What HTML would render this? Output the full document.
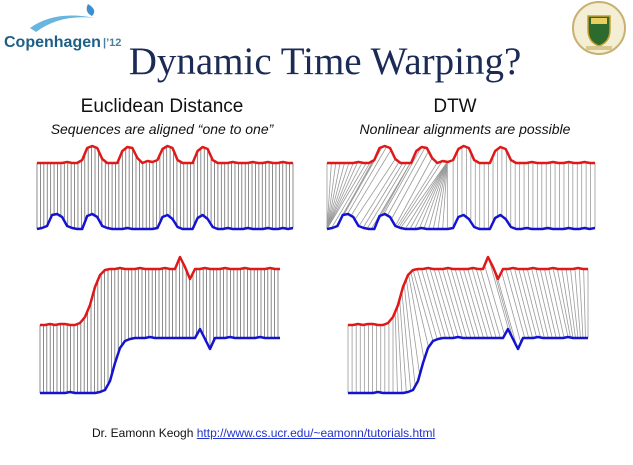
<!DOCTYPE html>
<html><head><meta charset="utf-8"><style>
body{margin:0;width:633px;height:465px;background:#fff;overflow:hidden;position:relative;font-family:"Liberation Sans",sans-serif}
.abs{position:absolute;white-space:nowrap}
</style></head><body>
<svg class="abs" style="left:0;top:0" width="633" height="465">
  <g>
    <path d="M30 28 Q55 10 95 18 Q60 14 36 32 Z" fill="#6ab4e0"/>
    <path d="M88 4 Q84 12 92 16 Q98 10 88 4Z" fill="#3d8fcf"/>
    <text x="4" y="47" font-family="Liberation Sans" font-weight="bold" font-size="16" fill="#1e5f86">Copenhagen</text>
    <text x="103" y="46" font-family="Liberation Sans" font-weight="bold" font-size="11" fill="#4a7fa0">|’12</text>
  </g>
  <g>
    <circle cx="599" cy="28" r="26" fill="#f4eed4" stroke="#c8b070" stroke-width="2"/>
    <path d="M588 16 h22 v14 q0 12 -11 16 q-11 -4 -11 -16z" fill="#2d6a2d" stroke="#c8a030" stroke-width="1.5"/>
    <rect x="591" y="18" width="16" height="6" fill="#e8d060"/>
    <rect x="586" y="46" width="26" height="4" fill="#d8c890"/>
  </g>
  <g id="charts"></g>
</svg>
<div class="abs" style="left:0;width:650px;text-align:center;top:39px;font-family:'Liberation Serif',serif;font-size:39px;color:#1b2b55">Dynamic Time Warping?</div>
<div class="abs" style="left:12px;width:300px;text-align:center;top:96px;font-size:19px;color:#111">Euclidean Distance</div>
<div class="abs" style="left:12px;width:300px;text-align:center;top:121px;font-size:14px;font-style:italic;color:#111">Sequences are aligned “one to one”</div>
<div class="abs" style="left:305px;width:300px;text-align:center;top:96px;font-size:19px;color:#111">DTW</div>
<div class="abs" style="left:315px;width:300px;text-align:center;top:121px;font-size:14px;font-style:italic;color:#111">Nonlinear alignments are possible</div>
<div class="abs" style="left:92px;top:426px;font-size:12px;color:#111">Dr. Eamonn Keogh <span style="color:#2233cc;text-decoration:underline">http://www.cs.ucr.edu/~eamonn/tutorials.html</span></div>
<script>
// top pair of series (index units, heights in px above baseline)
const topRed=[0,0,0,0,0,0,1,0,0,3,15,17,15,4,0,0,0,12,16,15,5,0,2,1,3,14,17,15,3,0,0,0,12,16,14,3,0,0,0,1,0,0,0,1,0,0,1,0,0,1,0,0];
const topBlue=[0,1,3,14,15,12,3,1,0,0,13,15,12,3,1,0,0,0,1,0,0,0,0,0,1,12,14,10,2,0,0,0,11,14,10,2,0,0,1,0,0,0,1,0,0,0,1,0,0,1,0,1];
// bottom pair
const botRed=[0,0,1,0,1,1,0,0,2,8,20,38,50,55,56,56,57,56,56,56,57,56,56,56,56,57,56,56,68,58,46,56,56,57,56,56,56,57,56,56,56,57,56,56,56,56,57,56,56];
const botBlue=[0,0,0,0,0,0,1,0,0,0,0,0,1,3,12,30,45,52,54,55,55,55,56,55,55,55,55,55,55,55,55,55,64,54,44,55,55,55,56,55,55,55,55,55,56,55,55,55,55];
// DTW warping knots (blue index, red index)
const topWarpBlue=[0,0,2.5,5.3,10,13,14,22.9,24,51];
const topWarpRed=[0,7.5,9.7,13,17.3,20,22.9,22.9,24,51];
const botWarpBlue=[0,9,17,33,44,48];
const botWarpRed=[0,9,13,29,41,48];

const NS="http://www.w3.org/2000/svg";
const g=document.getElementById('charts');
function val(arr,t){const i=Math.max(0,Math.min(arr.length-1,t));const a=Math.floor(i),b=Math.min(arr.length-1,a+1);return arr[a]+(arr[b]-arr[a])*(i-a);}
function drawPanel(name,red,blue,x0,x1,redBase,blueBase,wb,wr){
  const n=red.length-1;
  const xs=t=>x0+(x1-x0)*t/n;
  const grp=document.createElementNS(NS,'g');
  
  
  g.appendChild(grp);
  const pairs=[];
  let col='#6e6e6e';
  if(!wb){for(let t=0;t<=n+1e-6;t+=0.68)pairs.push([t,t]);}
  else{
    col='#9a9a9a';
    for(let k=0;k<wb.length-1;k++){
      const db=wb[k+1]-wb[k],dr=wr[k+1]-wr[k];
      const m=Math.max(1,Math.round(Math.max(db,dr)/0.85));
      for(let j=0;j<m;j++)pairs.push([wb[k]+db*j/m,wr[k]+dr*j/m]);
    }
    pairs.push([wb[wb.length-1],wr[wr.length-1]]);
  }
  pairs.forEach(p=>{
    const l=document.createElementNS(NS,'line');
    
    
    l.setAttribute('x1',xs(p[1]));l.setAttribute('y1',redBase-val(red,p[1]));
    l.setAttribute('x2',xs(p[0]));l.setAttribute('y2',blueBase-val(blue,p[0]));
    l.setAttribute('stroke',col);l.setAttribute('stroke-width','0.8');
    grp.appendChild(l);
  });
  [[red,redBase,'#e01818','red-series'],[blue,blueBase,'#1414d0','blue-series']].forEach(s=>{
    const p=document.createElementNS(NS,'polyline');
    
    
    p.setAttribute('points',s[0].map((v,i)=>xs(i)+','+(s[1]-v)).join(' '));
    p.setAttribute('fill','none');p.setAttribute('stroke',s[2]);p.setAttribute('stroke-width','2.5');p.setAttribute('stroke-linejoin','round');
    grp.appendChild(p);
  });
}
drawPanel('euclidean-top-panel',topRed,topBlue,37,293,163,229,null,null);
drawPanel('dtw-top-panel',topRed,topBlue,327,595,163,229,topWarpBlue,topWarpRed);
drawPanel('euclidean-bottom-panel',botRed,botBlue,40,280,325,393,null,null);
drawPanel('dtw-bottom-panel',botRed,botBlue,348,588,325,393,botWarpBlue,botWarpRed);
</script>
</body></html>
